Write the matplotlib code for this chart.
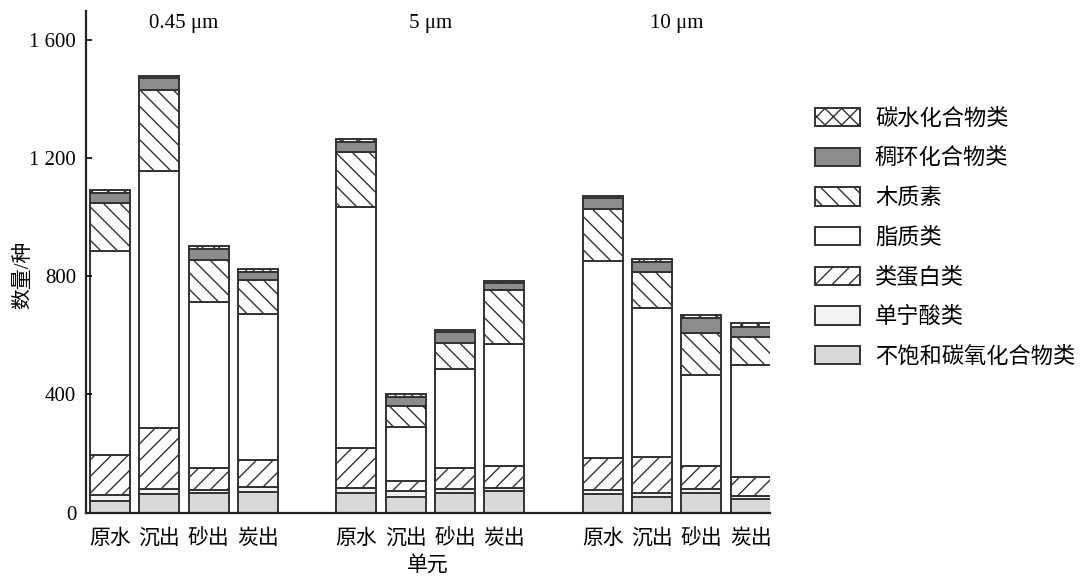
import numpy as np
import matplotlib
matplotlib.use("Agg")
import matplotlib.pyplot as plt

plt.rcParams['font.family'] = ['Liberation Serif', 'Noto Sans CJK SC']
plt.rcParams['hatch.linewidth'] = 1.0

units = ['原水', '沉出', '砂出', '炭出']
sizes = ['0.45 μm', '5 μm', '10 μm']

# values per bar: 0.45 um (4 bars), 5 um (4 bars), 10 um (4 bars)
unsat = [40, 63, 65, 68, 67, 51, 67, 74, 63, 54, 65, 46]        # 不饱和碳氧化合物类
tannin = [19, 16, 11, 17, 15, 22, 12, 10, 13, 13, 14, 10]       # 单宁酸类
protein = [136, 206, 74, 93, 135, 35, 73, 75, 110, 122, 80, 65]  # 类蛋白类
lipid = [692, 872, 564, 494, 817, 183, 333, 411, 666, 503, 307, 379]  # 脂质类
lignin = [162, 274, 141, 115, 188, 70, 90, 184, 175, 122, 141, 96]    # 木质素
condensed = [34, 40, 36, 27, 34, 31, 37, 22, 37, 35, 53, 33]    # 稠环化合物类
carb = [9, 8, 13, 11, 9, 8, 6, 8, 9, 9, 9, 12]                  # 碳水化合物类

layers = [
    ('不饱和碳氧化合物类', unsat, '#d9d9d9', None),
    ('单宁酸类', tannin, '#f2f2f2', None),
    ('类蛋白类', protein, 'white', '//'),
    ('脂质类', lipid, 'white', None),
    ('木质素', lignin, 'white', '\\\\'),
    ('稠环化合物类', condensed, '#8c8c8c', None),
    ('碳水化合物类', carb, 'white', 'xx'),
]

x = np.array([g * 5 + i for g in range(len(sizes)) for i in range(len(units))])

fig = plt.figure(figsize=(10.8, 5.78), dpi=100)
ax = fig.add_axes([0.0796, 0.1133, 0.6333, 0.8683])

edge = '#333333'
bottom = np.zeros(len(x))
handles = []
for name, vals, col, hatch in layers:
    vals = np.array(vals, dtype=float)
    b = ax.bar(x, vals, width=0.81, bottom=bottom, color=col, edgecolor=edge,
               linewidth=1.4, hatch=hatch, label=name)
    handles.append(b)
    bottom += vals

ax.set_xlim(-0.487, 13.39)
ax.set_ylim(0, 1700)
ax.set_yticks([0, 400, 800, 1200, 1600])
ax.set_yticklabels(['0', '400', '800', '1 200', '1 600'])
ax.set_xticks(x)
ax.set_xticklabels(units * len(sizes))
ax.tick_params(axis='y', direction='in', length=4, width=1.2, labelsize=15, pad=7)
ax.tick_params(axis='x', length=0, labelsize=15, pad=12)

for s in ['top', 'right']:
    ax.spines[s].set_visible(False)
for s in ['left', 'bottom']:
    ax.spines[s].set_linewidth(1.6)
    ax.spines[s].set_color('#222222')

for g, label in enumerate(sizes):
    ax.text(g * 5 + 1.5, 1655, label, ha='center', va='center', fontsize=15)

ax.set_xlabel('单元', fontsize=15, labelpad=5)
ax.set_ylabel('数量/种', fontsize=15)
ax.yaxis.set_label_coords(-0.077, 0.473)

fig.legend(handles[::-1], [l[0] for l in layers][::-1], loc='upper left',
           bbox_to_anchor=(0.755, 0.8133), frameon=False, fontsize=16,
           handlelength=2.0, handleheight=0.9, handletextpad=0.68,
           labelspacing=0.8, borderpad=0, borderaxespad=0)

fig.savefig('out.png', dpi=100)
